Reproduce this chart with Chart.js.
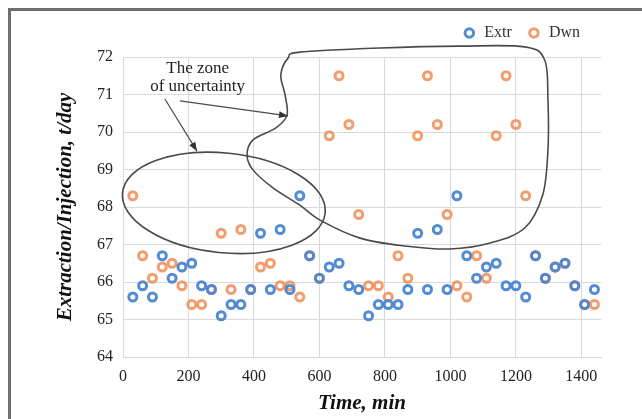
<!DOCTYPE html>
<html>
<head>
<meta charset="utf-8">
<script src="https://cdn.jsdelivr.net/npm/chart.js@4.4.0/dist/chart.umd.min.js"></script>
<style>
  html, body { margin: 0; padding: 0; background: #fff; }
</style>
</head>
<body>
<canvas id="scatter-zone" width="642" height="419"></canvas>
<script>
// sampling times, min
const times = [
  30, 60, 90, 120, 150, 180, 210, 240, 270, 300, 330, 360,
  390, 420, 450, 480, 510, 540, 570, 600, 630, 660, 690, 720,
  750, 780, 810, 840, 870, 900, 930, 960, 990, 1020, 1050, 1080,
  1110, 1140, 1170, 1200, 1230, 1260, 1290, 1320, 1350, 1380, 1410, 1440,
];

// Extr, t/day
const extr = [
  65.6, 65.9, 65.6, 66.7, 66.1, 66.4, 66.5, 65.9, 65.8, 65.1, 65.4, 65.4,
  65.8, 67.3, 65.8, 67.4, 65.8, 68.3, 66.7, 66.1, 66.4, 66.5, 65.9, 65.8,
  65.1, 65.4, 65.4, 65.4, 65.8, 67.3, 65.8, 67.4, 65.8, 68.3, 66.7, 66.1,
  66.4, 66.5, 65.9, 65.9, 65.6, 66.7, 66.1, 66.4, 66.5, 65.9, 65.4, 65.8,
];

// Dwn, t/day
const dwn = [
  68.3, 66.7, 66.1, 66.4, 66.5, 65.9, 65.4, 65.4, 65.8, 67.3, 65.8, 67.4,
  65.8, 66.4, 66.5, 65.9, 65.9, 65.6, 66.7, 66.1, 69.9, 71.5, 70.2, 67.8,
  65.9, 65.9, 65.6, 66.7, 66.1, 69.9, 71.5, 70.2, 67.8, 65.9, 65.6, 66.7,
  66.1, 69.9, 71.5, 70.2, 68.3, 66.7, 66.1, 66.4, 66.5, 65.9, 65.4, 65.4,
];

const seriesNames = ["Extr", "Dwn"];
const zoneLabel = ["The zone", "of uncertainty"];

// hand drawn outlines, in data units (time, t/day)
const zoneEllipse = { t: 308, v: 68.11, dt: 311, dv: 1.33, rot: 0.1 };
const zoneBlob = [
  [540, 72.13], [785, 72.24], [1029, 72.29], [1227, 72.27], [1288, 71.92],
  [1298, 70.85], [1298, 69.52], [1282, 68.32], [1227, 67.44], [1121, 67.04],
  [998, 66.88], [861, 66.96], [724, 67.17], [602, 67.65], [540, 68.05],
  [458, 68.51], [397, 68.99], [379, 69.39], [397, 69.79], [467, 70.11],
  [501, 70.45], [495, 70.99], [482, 71.52], [504, 71.97],
];
const zoneArrows = [
  [[128, 70.88], [226, 69.49]],
  [[174, 70.83], [504, 70.43]],
];
const zoneLabelPos = [228, 71.68];

const serif = "'Liberation Serif', 'DejaVu Serif', serif";

const toPoints = (vals) => vals.map((v, i) => ({ x: times[i], y: v }));

const framePlugin = {
  id: "frame",
  beforeDraw(chart) {
    const ctx = chart.ctx;
    ctx.save();
    ctx.fillStyle = "#fff";
    ctx.fillRect(0, 0, chart.width, chart.height);
    ctx.strokeStyle = "#6f6f6f";
    ctx.lineWidth = 3;
    ctx.strokeRect(9.5, 9.5, chart.width + 20, chart.height + 20);
    ctx.restore();
  },
};

// a bit more room under the legend, and pull it in from the right edge
const legendPlugin = {
  id: "legendTweak",
  beforeInit(chart) {
    const fit = chart.legend.fit;
    chart.legend.fit = function () {
      fit.bind(chart.legend)();
      this.height += 6;
    };
  },
  afterLayout(chart) {
    chart.legend.right -= 6;
  },
};

function drawArrow(ctx, x1, y1, x2, y2) {
  ctx.beginPath();
  ctx.moveTo(x1, y1);
  ctx.lineTo(x2, y2);
  ctx.stroke();
  const a = Math.atan2(y2 - y1, x2 - x1);
  const len = 9, w = 3.5;
  ctx.beginPath();
  ctx.moveTo(x2, y2);
  ctx.lineTo(x2 - len * Math.cos(a) + w * Math.sin(a), y2 - len * Math.sin(a) - w * Math.cos(a));
  ctx.lineTo(x2 - len * Math.cos(a) - w * Math.sin(a), y2 - len * Math.sin(a) + w * Math.cos(a));
  ctx.closePath();
  ctx.fill();
}

const zonePlugin = {
  id: "zone",
  afterDatasetsDraw(chart) {
    const { ctx } = chart;
    const sx = chart.scales.x, sy = chart.scales.y;
    const px = (t) => sx.getPixelForValue(t);
    const py = (v) => sy.getPixelForValue(v);
    ctx.save();
    ctx.strokeStyle = "#4a4a4a";
    ctx.fillStyle = "#333";
    ctx.lineWidth = 1.6;

    // ellipse
    const e = zoneEllipse;
    const cx = px(e.t), cy = py(e.v);
    ctx.beginPath();
    ctx.ellipse(cx, cy, px(e.t + e.dt) - cx, py(e.v - e.dv) - cy, e.rot, 0, Math.PI * 2);
    ctx.stroke();

    // closed smooth outline (catmull-rom)
    const pts = zoneBlob.map(([t, v]) => [px(t), py(v)]);
    const n = pts.length;
    ctx.beginPath();
    ctx.moveTo(pts[0][0], pts[0][1]);
    for (let i = 0; i < n; i++) {
      const p0 = pts[(i - 1 + n) % n], p1 = pts[i], p2 = pts[(i + 1) % n], p3 = pts[(i + 2) % n];
      ctx.bezierCurveTo(
        p1[0] + (p2[0] - p0[0]) / 6, p1[1] + (p2[1] - p0[1]) / 6,
        p2[0] - (p3[0] - p1[0]) / 6, p2[1] - (p3[1] - p1[1]) / 6,
        p2[0], p2[1]
      );
    }
    ctx.closePath();
    ctx.stroke();

    ctx.lineWidth = 1.2;
    zoneArrows.forEach(([a, b]) => drawArrow(ctx, px(a[0]), py(a[1]), px(b[0]), py(b[1])));

    ctx.fillStyle = "#222";
    ctx.font = "17px " + serif;
    ctx.textAlign = "center";
    ctx.textBaseline = "middle";
    const lx = px(zoneLabelPos[0]), ly = py(zoneLabelPos[1]);
    zoneLabel.forEach((s, i) => ctx.fillText(s, lx, ly + i * 18));
    ctx.restore();
  },
};

new Chart(document.getElementById("scatter-zone"), {
  type: "scatter",
  data: {
    datasets: [
      {
        label: seriesNames[0],
        data: toPoints(extr),
        borderColor: "rgba(74, 133, 210, 0.95)",
        backgroundColor: "rgba(255, 255, 255, 0)",
        pointRadius: 4,
        pointBorderWidth: 3,
        borderWidth: 3,
      },
      {
        label: seriesNames[1],
        data: toPoints(dwn),
        borderColor: "rgba(240, 140, 84, 0.85)",
        backgroundColor: "rgba(255, 255, 255, 0)",
        pointRadius: 4,
        pointBorderWidth: 3,
        borderWidth: 3,
      },
    ],
  },
  options: {
    responsive: false,
    animation: false,
    layout: { padding: { left: 53, right: 41, top: 10, bottom: 1 } },
    plugins: {
      legend: {
        position: "top",
        align: "end",
        labels: {
          usePointStyle: true,
          pointStyle: "circle",
          boxWidth: 14,
          boxHeight: 6,
          padding: 15,
          color: "#333",
          font: { family: serif, size: 16 },
        },
      },
      tooltip: { enabled: false },
    },
    scales: {
      x: {
        type: "linear",
        min: 0,
        max: 1460,
        afterFit: (scale) => { scale.height = 61; },
        ticks: {
          stepSize: 200,
          includeBounds: false,
          padding: 10,
          maxRotation: 0,
          color: "#222",
          font: { family: serif, size: 16 },
          callback: (value) => String(value),
        },
        grid: { color: "#d9d9d9", drawTicks: false },
        border: { color: "#d9d9d9" },
        title: {
          display: true,
          text: "Time, min",
          color: "#111",
          padding: { top: 2, bottom: 2 },
          font: { family: serif, size: 21, style: "italic", weight: "bold" },
        },
      },
      y: {
        min: 64,
        max: 72,
        afterFit: (scale) => { scale.width = 70; },
        ticks: {
          stepSize: 1,
          padding: 10,
          color: "#222",
          font: { family: serif, size: 16 },
        },
        grid: { color: "#d9d9d9", drawTicks: false },
        border: { color: "#d9d9d9" },
        title: {
          display: true,
          text: "Extraction/Injection, t/day",
          color: "#111",
          padding: { top: 0, bottom: 4 },
          font: { family: serif, size: 21, style: "italic", weight: "bold" },
        },
      },
    },
  },
  plugins: [framePlugin, legendPlugin, zonePlugin],
});
</script>
</body>
</html>
